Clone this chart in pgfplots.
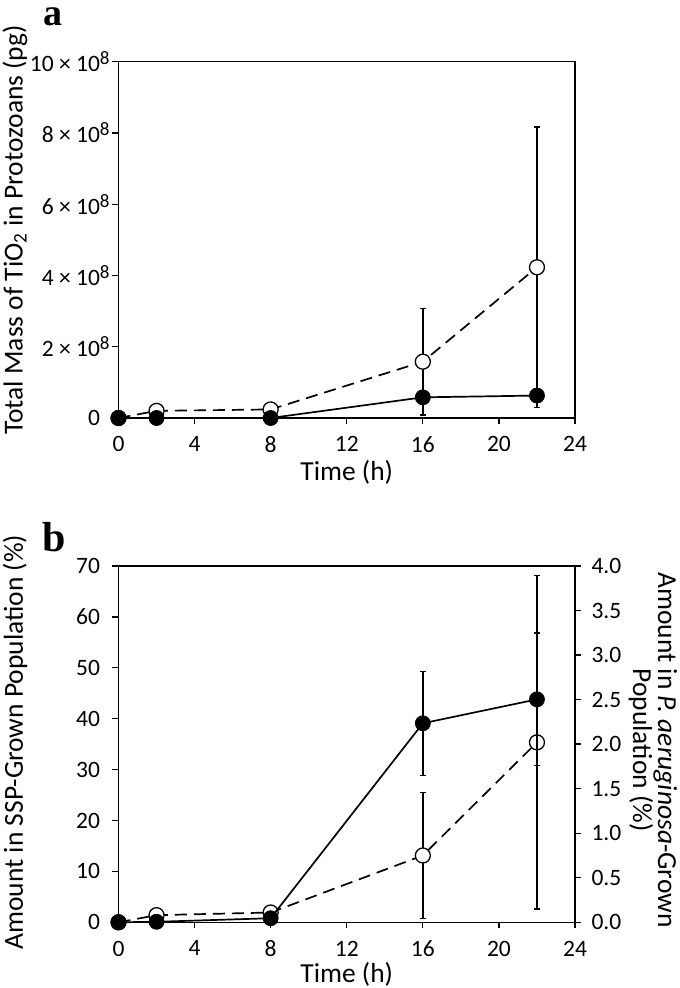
\documentclass[border=0pt]{standalone}
\usepackage{pgfplots}
\pgfplotsset{compat=1.18}
\usepackage{fontspec}
\setmainfont{Carlito}
\newfontfamily\panelfont{Liberation Serif}
\newcommand{\sci}[1]{#1 × 10\rlap{\raisebox{7pt}{\fontsize{19}{19}\selectfont 8}}}
\begin{document}
\begin{tikzpicture}[x=1pt,y=1pt]
\useasboundingbox (0,0) rectangle (680,988);
\pgfplotsset{
  common/.style={
    scale only axis, width=456.5pt, height=356.3pt,
    xmin=0, xmax=24, xtick={0,4,...,24},
    axis line style={line width=1.4pt},
    every tick/.style={line width=1.3pt, black},
    major tick length=6pt,
    tick align=outside,
    tick label style={font=\fontsize{23.5}{27}\selectfont},
    x tick label style={yshift=-9pt},
    label style={font=\fontsize{27.5}{25}\selectfont},
    /pgf/number format/assume math mode=true,
    clip=false,
  },
  filled/.style={solid, line width=1.7pt, black, mark=*, mark size=7.5pt,
    mark options={solid, fill=black, draw=black, line width=0.8pt},
    error bars/.cd, y dir=both, y explicit,
    error bar style={line width=1.5pt, solid, black},
    error mark options={rotate=90, mark size=3pt, line width=1.4pt, black}},
  open/.style={line width=1.7pt, black, dash pattern=on 12pt off 7pt, mark=*, mark size=7.5pt,
    mark options={solid, fill=white, draw=black, line width=1.3pt},
    error bars/.cd, y dir=both, y explicit,
    error bar style={line width=1.5pt, solid, black},
    error mark options={rotate=90, mark size=3pt, line width=1.4pt, black}},
}
% ---------------- Panel a ----------------
\begin{axis}[common,
  at={(118.5pt,570pt)}, anchor=south west,
  ymin=0, ymax=10, ytick={0,2,4,6,8,10},
  yticklabels={0, \sci{2}, \sci{4}, \sci{6}, \sci{8}, \sci{10}},
  y tick label style={xshift=-9pt},
  tick pos=left,
  xlabel={Time (h)},
  xlabel style={at={(axis description cs:0.5,-0.152)}, anchor=center},
  ylabel={Total Mass of TiO\textsubscript{2} in Protozoans (pg)},
  ylabel style={at={(axis description cs:-0.2267,0.528)}, anchor=center},
]
\addplot+[open] table[x=t, y=v, y error=e] {
t v e
0 0 0
2 0.20 0
8 0.24 0
16 1.58 1.50
22 4.23 3.94
};
\addplot+[filled] table[x=t, y=v, y error=e] {
t v e
0 0 0
2 0 0
8 0 0
16 0.58 0
22 0.63 0
};
\end{axis}
\node[font=\panelfont\bfseries\fontsize{38}{38}\selectfont, anchor=base, inner sep=0pt] at (53,962) {a};
% ---------------- Panel b: right axis ----------------
\begin{axis}[common,
  at={(118.5pt,65.7pt)}, anchor=south west,
  ymin=0, ymax=4, ytick={0,0.5,...,4},
  axis x line=none, axis y line*=right,
  y tick label style={xshift=7pt, /pgf/number format/.cd, fixed, fixed zerofill, precision=1},
  ylabel={Amount in \textit{P. aeruginosa}-Grown\\Population (\%)},
  ylabel style={at={(axis description cs:1.1705,0.4836)}, anchor=center, rotate=180, align=center},
]
\addplot+[open] table[x=t, y=v, y error=e] {
t v e
0 0 0
2 0.08 0
8 0.11 0
16 0.75 0.71
22 2.02 1.87
};
\end{axis}
% ---------------- Panel b: left axis ----------------
\begin{axis}[common,
  at={(118.5pt,65.7pt)}, anchor=south west,
  ymin=0, ymax=70, ytick={0,10,...,70},
  xtick pos=bottom, ytick pos=left,
  y tick label style={xshift=-9pt},
  xlabel={Time (h)},
  xlabel style={at={(axis description cs:0.5,-0.146)}, anchor=center},
  ylabel={Amount in SSP-Grown Population (\%)},
  ylabel style={at={(axis description cs:-0.2267,0.506)}, anchor=center},
]
\addplot+[filled] table[x=t, y=v, y error=e] {
t v e
0 0 0
2 0.1 0
8 0.8 0
16 39.1 10.2
22 43.8 13.0
};
\end{axis}
\node[font=\panelfont\bfseries\fontsize{42}{42}\selectfont, anchor=base] at (54,436) {b};
\end{tikzpicture}
\end{document}
